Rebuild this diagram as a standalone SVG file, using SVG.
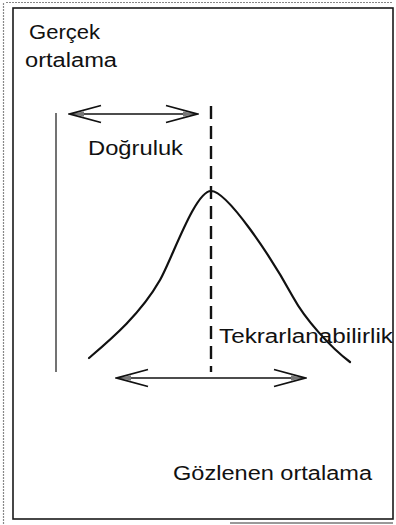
<svg xmlns="http://www.w3.org/2000/svg" width="396" height="525" viewBox="0 0 396 525">
<style>
.lbl{font-family:"Liberation Sans",Arial,Helvetica,sans-serif;font-size:20px;fill:#111}
.frame{fill:none;stroke:#1a1a1a;stroke-width:1.6}
.scan{fill:none;stroke:#888;stroke-width:1.2;stroke-dasharray:2 1}
.arr{fill:none;stroke:#111;stroke-width:1.5}
.curve{fill:none;stroke:#111;stroke-width:2.2;stroke-linecap:round}
.axis{fill:none;stroke:#444;stroke-width:1.5}
.mean{fill:none;stroke:#111;stroke-width:2.4;stroke-dasharray:13 7}
</style>
<defs>
<marker id="head" markerUnits="userSpaceOnUse" viewBox="-33 -10 35 20" refX="0" refY="0" markerWidth="35" markerHeight="20" orient="auto-start-reverse">
<path d="M-14,-2.5 L0,0 L-14,2.5 Z" fill="#777"/>
<path d="M-31,-8.5 L0,0 L-31,8.5" fill="none" stroke="#111" stroke-width="1.8" stroke-linejoin="miter"/>
</marker>
</defs>
<g id="frame">
<path class="scan" d="M3.5,3 V525 M6,2.5 H393"/>
<path d="M230,523 H393" stroke="#999" stroke-width="2" fill="none"/>
<rect class="frame" x="13" y="8" width="380" height="511"/>
</g>
<g id="connectors">
<path class="axis" d="M56,113 V372"/>
<path class="mean" d="M211,106 V372"/>
<path class="arr" d="M70,114 H197" marker-start="url(#head)" marker-end="url(#head)"/>
<path class="arr" d="M117,378 H305" marker-start="url(#head)" marker-end="url(#head)"/>
</g>
<g id="curve">
<path class="curve" d="M89,358 C110,340 140,315 160,280 C172,259 195,191 211,191 C227,191 270,255 293,297 C305,319 330,347 350,362"/>
</g>
<g id="gercek-ortalama">
<text class="lbl" x="29" y="39" textLength="71" lengthAdjust="spacingAndGlyphs">Gerçek</text>
<text class="lbl" x="25" y="67" textLength="92" lengthAdjust="spacingAndGlyphs">ortalama</text>
</g>
<g id="dogruluk">
<text class="lbl" x="88" y="155" textLength="95" lengthAdjust="spacingAndGlyphs">Doğruluk</text>
</g>
<g id="tekrarlanabilirlik">
<text class="lbl" x="219" y="343" textLength="174" lengthAdjust="spacingAndGlyphs">Tekrarlanabilirlik</text>
</g>
<g id="gozlenen-ortalama">
<text class="lbl" x="173" y="480" textLength="199" lengthAdjust="spacingAndGlyphs">Gözlenen ortalama</text>
</g>
</svg>
